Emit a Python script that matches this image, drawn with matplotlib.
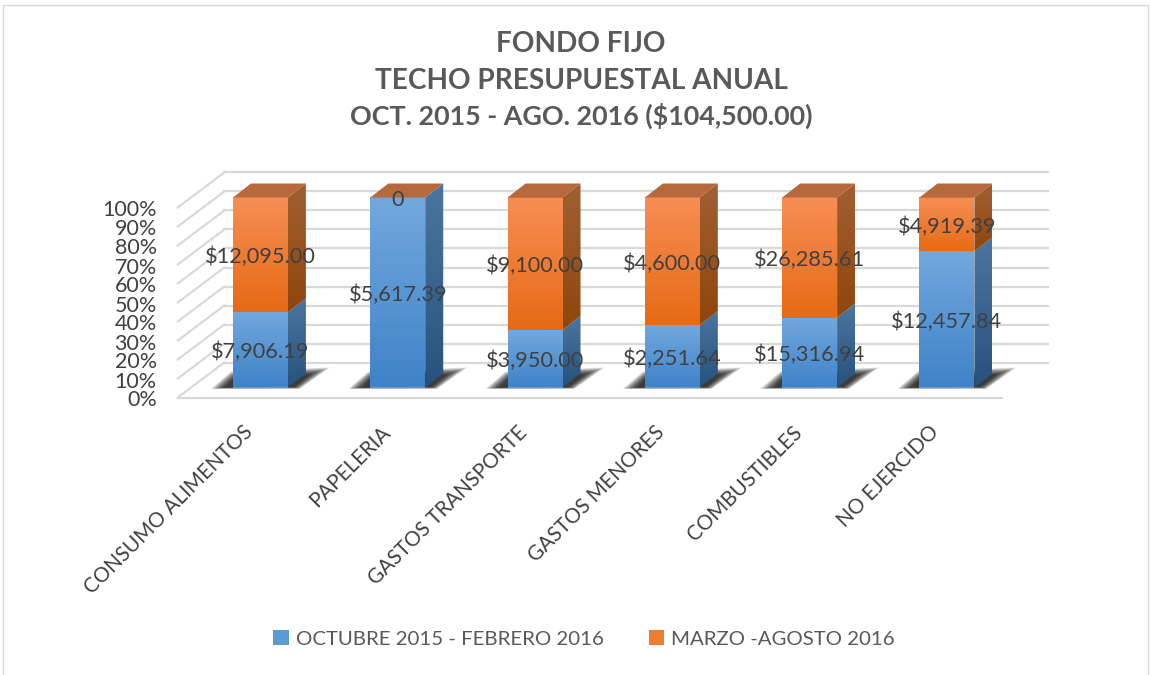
import matplotlib
matplotlib.use('Agg')
import matplotlib.pyplot as plt
from matplotlib.colors import LinearSegmentedColormap
from matplotlib.patches import Polygon, Patch
from matplotlib.transforms import ScaledTranslation
import numpy as np

plt.rcParams['font.family'] = ['Lato', 'DejaVu Sans']

categories = ['CONSUMO ALIMENTOS', 'PAPELERIA', 'GASTOS TRANSPORTE',
              'GASTOS MENORES', 'COMBUSTIBLES', 'NO EJERCIDO']
oct_feb = [7906.19, 5617.39, 3950.00, 2251.64, 15316.94, 12457.84]
mar_ago = [12095.00, 0, 9100.00, 4600.00, 26285.61, 4919.39]
oct_feb_labels = ['$7,906.19', '$5,617.39', '$3,950.00', '$2,251.64',
                  '$15,316.94', '$12,457.84']
mar_ago_labels = ['$12,095.00', '0', '$9,100.00', '$4,600.00',
                  '$26,285.61', '$4,919.39']
series_names = ['OCTUBRE 2015 - FEBRERO 2016', 'MARZO -AGOSTO 2016']
title_lines = ['FONDO FIJO', 'TECHO PRESUPUESTAL ANUAL',
               'OCT. 2015 - AGO. 2016 ($104,500.00)']
pct_ticks = list(range(0, 101, 10))

W, H = 1151, 675
TEXT = '#404040'
GREY = '#595959'
GRID = '#d9d9d9'

fig = plt.figure(figsize=(W / 100, H / 100), dpi=100)
# axes sit on the plane of the bar fronts
left, right, bottom, top = 191.8, 1015.6, 387.5, 197.5
ax = fig.add_axes([left / W, 1 - bottom / H, (right - left) / W, (bottom - top) / H])
ax.set_xlim(-0.5, 5.5)
ax.set_ylim(0, 100)
ax.patch.set_alpha(0)
for s in ax.spines.values():
    s.set_visible(False)

px_x = 6 / (right - left)
px_y = 100 / (bottom - top)
depth_x, depth_y = 18 * px_x, 14 * px_y       # bar depth
back_x, back_y = 32.5 * px_x, 25 * px_y       # bar plane to back wall
front_x, front_y = 14 * px_x, 10 * px_y       # bar plane to front edge
width = 0.4


def gradient(face, c_top, c_bot, y_top, y_bot, zorder):
    cmap = LinearSegmentedColormap.from_list('g', [c_top, c_bot])
    if isinstance(face, plt.Rectangle):
        patch = face
        x0, x1 = patch.get_x(), patch.get_x() + patch.get_width()
    else:
        patch = Polygon(face, closed=True, fc='none', ec='none',
                        transform=ax.transData, clip_on=False)
        ax.add_patch(patch)
        x0, x1 = min(v[0] for v in face), max(v[0] for v in face)
    # row 0 goes to y_top
    im = ax.imshow(np.linspace(0, 1, 64).reshape(-1, 1), cmap=cmap, aspect='auto',
                   extent=(x0, x1, y_bot, y_top), origin='upper', zorder=zorder,
                   interpolation='bilinear')
    im.set_clip_box(fig.bbox)
    im.set_clip_path(patch)


# walls
for p in pct_ticks:
    ax.plot([-0.5 + back_x, 5.5 + back_x], [p + back_y] * 2, color=GRID, lw=1.6,
            clip_on=False, zorder=1)
    ax.plot([-0.5 - front_x, -0.5 + back_x], [p - front_y, p + back_y], color=GRID,
            lw=1.6, clip_on=False, zorder=1)
ax.plot([-0.5 - front_x, 5.5 - front_x], [-front_y] * 2, color=GRID, lw=1.6,
        clip_on=False, zorder=1)

xs = np.arange(len(categories))
totals = np.array(oct_feb) + np.array(mar_ago)
blue_h = np.array(oct_feb) / totals * 100
orange_h = np.array(mar_ago) / totals * 100

# soft shadows on the floor, stacked shapes going from outer to inner outline
for x in xs:
    x0, x1 = x - width / 2, x + width / 2
    outer = np.array([(x0 - 22 * px_x, -0.7), (x0 - 2 * px_x, 16 * px_y),
                      (x1 + 42 * px_x, 20 * px_y), (x1 + 12 * px_x, -0.7)])
    inner = np.array([(x0 - 8 * px_x, 0), (x0, 8 * px_y),
                      (x1 + 22 * px_x, 13 * px_y), (x1 + 6 * px_x, 0.3)])
    for g in np.linspace(0, 1, 12):
        ax.add_patch(Polygon(outer + (inner - outer) * g, closed=True, fc='#000000',
                             ec='none', alpha=0.11, zorder=2, clip_on=False))

bars_a = ax.bar(xs, blue_h, width, color='#5b9bd5', zorder=3)
bars_b = ax.bar(xs, orange_h, width, bottom=blue_h, color='#ed7d31', zorder=3)

for x, ba, bb, a, b in zip(xs, bars_a, bars_b, blue_h, orange_h):
    x1 = x + width / 2
    x0 = x - width / 2
    gradient(ba, '#72a8de', '#4083c8', a, 0, 4)
    if b > 0:
        gradient(bb, '#f68e55', '#e76a15', 100, a, 4)
    # side faces
    gradient([(x1, 0), (x1 + depth_x, depth_y), (x1 + depth_x, a + depth_y), (x1, a)],
             '#4a769f', '#27527e', a + depth_y, 0, 4)
    if b > 0:
        gradient([(x1, a), (x1 + depth_x, a + depth_y), (x1 + depth_x, 100 + depth_y), (x1, 100)],
                 '#a25f33', '#8f460c', 100 + depth_y, a, 4)
    # top cap
    ax.add_patch(Polygon([(x0, 100), (x1, 100), (x1 + depth_x, 100 + depth_y),
                          (x0 + depth_x, 100 + depth_y)], closed=True,
                         fc='#b5693d', ec='none', zorder=4, clip_on=False))

ax.set_xlim(-0.5, 5.5)
ax.set_ylim(0, 100)

# data labels
for x, a, b, la, lb in zip(xs, blue_h, orange_h, oct_feb_labels, mar_ago_labels):
    ax.text(x, a / 2 - 1.2, la, ha='center', va='center', fontsize=15.7, color=TEXT, zorder=6)
    ax.text(x, a + b / 2 - 1.2, lb, ha='center', va='center',
            fontsize=15.7, color=TEXT, zorder=6)

# tick labels
ax.set_yticks(pct_ticks)
ax.set_yticklabels(['%d%%' % p for p in pct_ticks])
ax.tick_params(axis='y', length=0, labelsize=15.5, labelcolor=TEXT, pad=0)
off_y = ScaledTranslation(-35 / 100, -11 / 100, fig.dpi_scale_trans)
for lab in ax.get_yticklabels():
    lab.set_transform(lab.get_transform() + off_y)

ax.set_xticks(xs)
ax.set_xticklabels(categories, rotation=45, ha='right', va='top', rotation_mode='anchor')
ax.tick_params(axis='x', length=0, labelsize=14.8, labelcolor=TEXT, pad=25)
off_x = ScaledTranslation(-18 / 100, 0, fig.dpi_scale_trans)
for lab in ax.get_xticklabels():
    lab.set_transform(lab.get_transform() + off_x)

# title lines, the last one set a bit smaller since its digits run wide in this font
for line, base, size in zip(title_lines, [52, 89, 125], [20.2, 20.2, 19.4]):
    fig.text(581 / W, 1 - base / H, line, ha='center', va='baseline', fontsize=size,
             fontweight='bold', color=GREY)

handles = [Patch(fc='#5b9bd5', ec='none'), Patch(fc='#ed7d31', ec='none')]
fig.legend(handles, series_names, loc='center', bbox_to_anchor=(584 / W, 1 - 639 / H), ncol=2,
           frameon=False, fontsize=14.7, labelcolor=GREY, handlelength=0.75, handleheight=0.75,
           handletextpad=0.35, columnspacing=2.2)

# outer frame of the chart
fig.add_artist(plt.Line2D([3 / W, 3 / W, 1148 / W, 1148 / W], [0, 1 - 5 / H, 1 - 5 / H, 0],
                          color='#d9d9d9', lw=1))

fig.savefig('out.png', dpi=100)
